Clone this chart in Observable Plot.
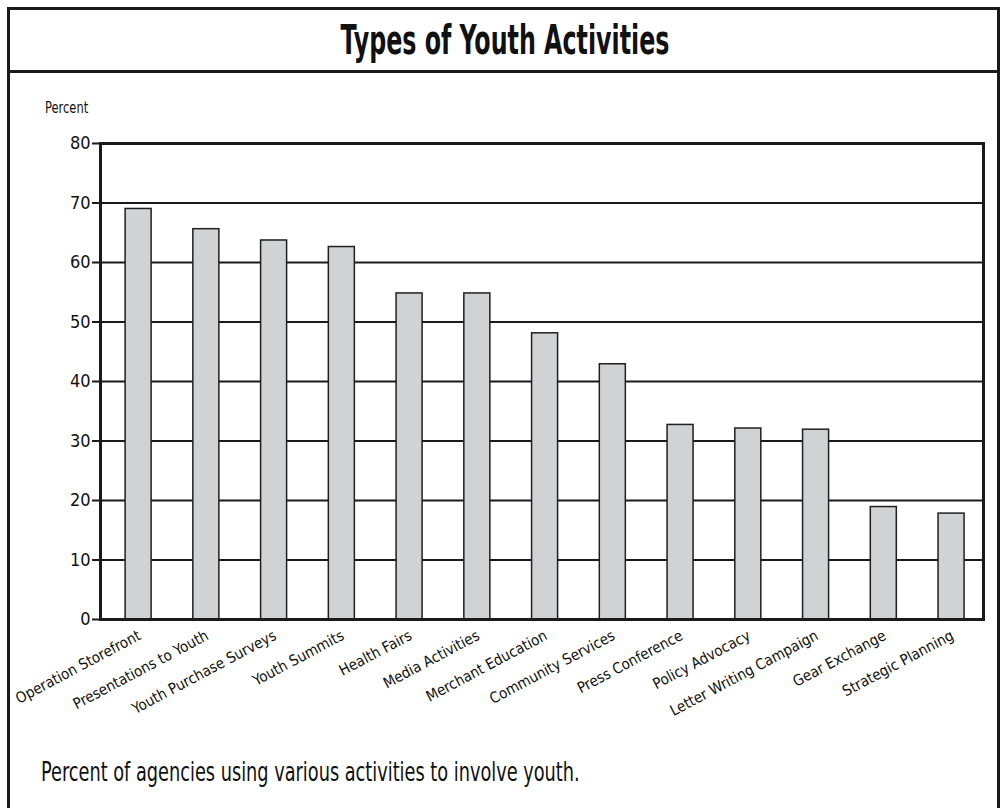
<!DOCTYPE html>
<html>
<head>
<meta charset="utf-8">
<script src="https://cdn.jsdelivr.net/npm/d3@7"></script>
<script src="https://cdn.jsdelivr.net/npm/@observablehq/plot@0.6"></script>
<style>
  html, body { margin: 0; padding: 0; background: #fff; overflow: hidden; }
  #page { position: relative; width: 1002px; height: 808px; overflow: hidden;
          font-family: "Liberation Sans Narrow", "DejaVu Sans Condensed", "Liberation Sans", sans-serif; color: #111; }
  #box { position: absolute; left: 7px; top: 7px; width: 993px; height: 830px; box-sizing: border-box; border: 3px solid #1a1a1a; }
  #divider { position: absolute; left: 7px; top: 70px; width: 993px; height: 3px; background: #1a1a1a; }
  #title { position: absolute; left: 0; top: 16px; width: 1010px; text-align: center; font-weight: bold; font-size: 40px;
           line-height: 48px; transform: scaleX(0.66); transform-origin: 505px 0; }
  #ylabel { position: absolute; left: 45px; top: 99px; font-size: 16px; line-height: 18px; transform: scaleX(0.8); transform-origin: 0 0; }
  #caption { position: absolute; left: 41px; top: 756px; font-size: 27px; line-height: 32px; transform: scaleX(0.73); transform-origin: 0 0; white-space: nowrap; }
  #chart { position: absolute; left: 0; top: 130px; }
</style>
</head>
<body>
<div id="page">
  <div id="box"></div>
  <div id="divider"></div>
  <div id="title">Types of Youth Activities</div>
  <div id="ylabel">Percent</div>
  <div id="chart"></div>
  <div id="caption">Percent of agencies using various activities to involve youth.</div>
</div>
<script>
const categories = [
  "Operation Storefront", "Presentations to Youth", "Youth Purchase Surveys", "Youth Summits",
  "Health Fairs", "Media Activities", "Merchant Education", "Community Services",
  "Press Conference", "Policy Advocacy", "Letter Writing Campaign", "Gear Exchange", "Strategic Planning"
];
const percents = [69.0, 65.6, 63.7, 62.6, 54.8, 54.8, 48.1, 42.9, 32.7, 32.1, 31.9, 18.9, 17.8];
const yTicks = [0, 10, 20, 30, 40, 50, 60, 70, 80];

const data = categories.map((c, i) => ({category: c, percent: percents[i]}));

const chart = Plot.plot({
  width: 1002,
  height: 600,
  marginLeft: 100,
  marginRight: 19,
  marginTop: 13,
  marginBottom: 111,
  style: {fontFamily: '"Liberation Sans Narrow", "DejaVu Sans Condensed", "Liberation Sans", sans-serif', color: "#111", background: "transparent"},
  x: {domain: categories, paddingInner: 0.616, paddingOuter: 0.325, align: 0.57, round: false},
  y: {domain: [0, 80]},
  marks: [
    Plot.ruleY(yTicks.filter(d => d > 0 && d < 80), {stroke: "#1a1a1a", strokeWidth: 2}),
    Plot.barY(data, {x: "category", y: "percent", fill: "#d1d2d4", stroke: "#1f1f1f", strokeWidth: 1.5}),
    Plot.axisY({ticks: yTicks, tickSize: 8, tickPadding: 2, fontSize: 18, stroke: "#1a1a1a", strokeWidth: 2, label: null}),
    Plot.axisX({tickSize: 0, tickPadding: 15, tickRotate: -28, fontSize: 15, dx: 1, label: null}),
    Plot.frame({stroke: "#1a1a1a", strokeWidth: 3})
  ]
});
document.getElementById("chart").appendChild(chart);
</script>
</body>
</html>
